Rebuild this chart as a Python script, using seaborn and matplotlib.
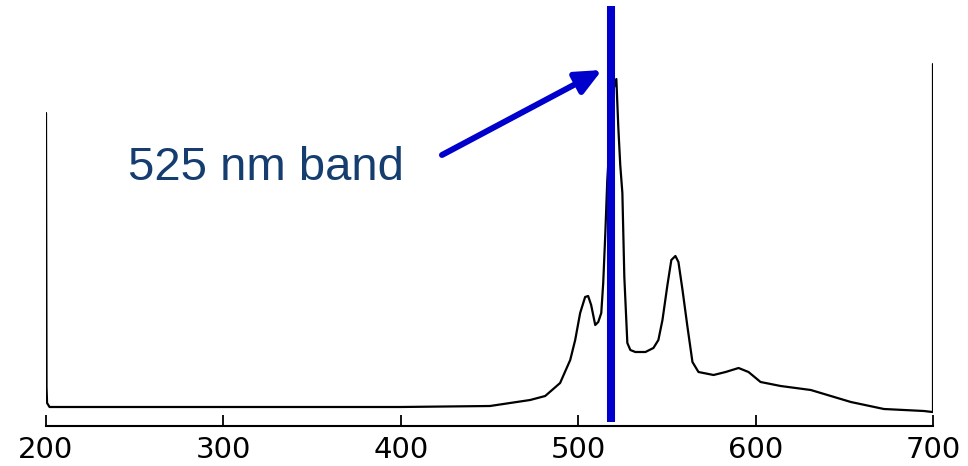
import matplotlib
matplotlib.use("Agg")
import matplotlib.pyplot as plt
import seaborn as sns
import pandas as pd

# Spectrum (wavelength nm, relative intensity)
wavelength = [200.0, 200.3, 200.6, 202.0, 300.0, 400.0, 450.3, 461.6, 472.9, 481.4,
              489.8, 495.5, 498.3, 501.1, 503.9, 505.6, 507.3, 509.6, 511.3, 513.0,
              514.1, 515.3, 516.4, 518.1, 519.8, 521.5, 522.6, 523.7, 524.9, 526.0,
              527.7, 529.4, 532.2, 537.9, 542.4, 545.2, 547.5, 550.3, 552.5, 554.8,
              556.5, 558.8, 561.6, 564.4, 567.8, 576.3, 583.1, 590.4, 596.0, 602.8,
              614.1, 631.1, 653.7, 672.3, 694.9, 699.6, 700.0, 700.0]
intensity = [294, 20, 4, 0, 0, 0, 1, 4, 7, 11,
             24, 47, 67, 94, 110, 111, 102, 82, 85, 94,
             124, 174, 227, 277, 317, 328, 280, 242, 214, 130,
             64, 57, 55, 55, 59, 67, 87, 122, 147, 151,
             145, 117, 80, 45, 35, 32, 35, 39, 35, 25,
             21, 17, 5, -2, -4, -5, -5, 343]

tick_values = [200, 300, 400, 500, 600, 700]
tick_labels = ["200", "300", "400", "500", "600", "700"]

band_position = 518.5
band_label = "525 nm band"

df = pd.DataFrame({"wavelength": wavelength, "intensity": intensity})

sns.set_style("white")
W, H = 968, 466
fig = plt.figure(figsize=(W / 100, H / 100), dpi=100)
ax = fig.add_axes([46 / W, (H - 426) / H, (933 - 46) / W, 426 / H])

sns.lineplot(data=df, x="wavelength", y="intensity", sort=False, estimator=None,
             color="black", lw=1.6, ax=ax)

ax.set_xlim(200, 700)
ax.set_ylim(-19, 407)

# Blue band marker
ax.plot([band_position, band_position], [-15, 401], color="#0000CC", lw=5.8,
        solid_capstyle="butt", zorder=5)

# Annotation
ax.annotate("", xy=(513.4, 337), xytext=(423.2, 252),
            arrowprops=dict(arrowstyle="-|>,head_length=1.1,head_width=0.5",
                            mutation_scale=14, lw=4.3, color="#0000CC",
                            shrinkA=0, shrinkB=0), zorder=6)
ax.text(246.2, 227, band_label, fontsize=34, family="Liberation Sans",
        color="#153d6f", ha="left", va="baseline")

for s in ["left", "right", "top"]:
    ax.spines[s].set_visible(False)
ax.spines["bottom"].set_color("black")
ax.spines["bottom"].set_linewidth(1.5)

ax.set_xticks(tick_values)
ax.set_xticklabels(tick_labels)
ax.set_yticks([])
ax.tick_params(axis="x", direction="in", length=8, width=1.3, color="black",
               labelcolor="black", labelsize=21, pad=7, bottom=True)
ax.set_xlabel("")
ax.set_ylabel("")

fig.savefig("out.png", dpi=100)
